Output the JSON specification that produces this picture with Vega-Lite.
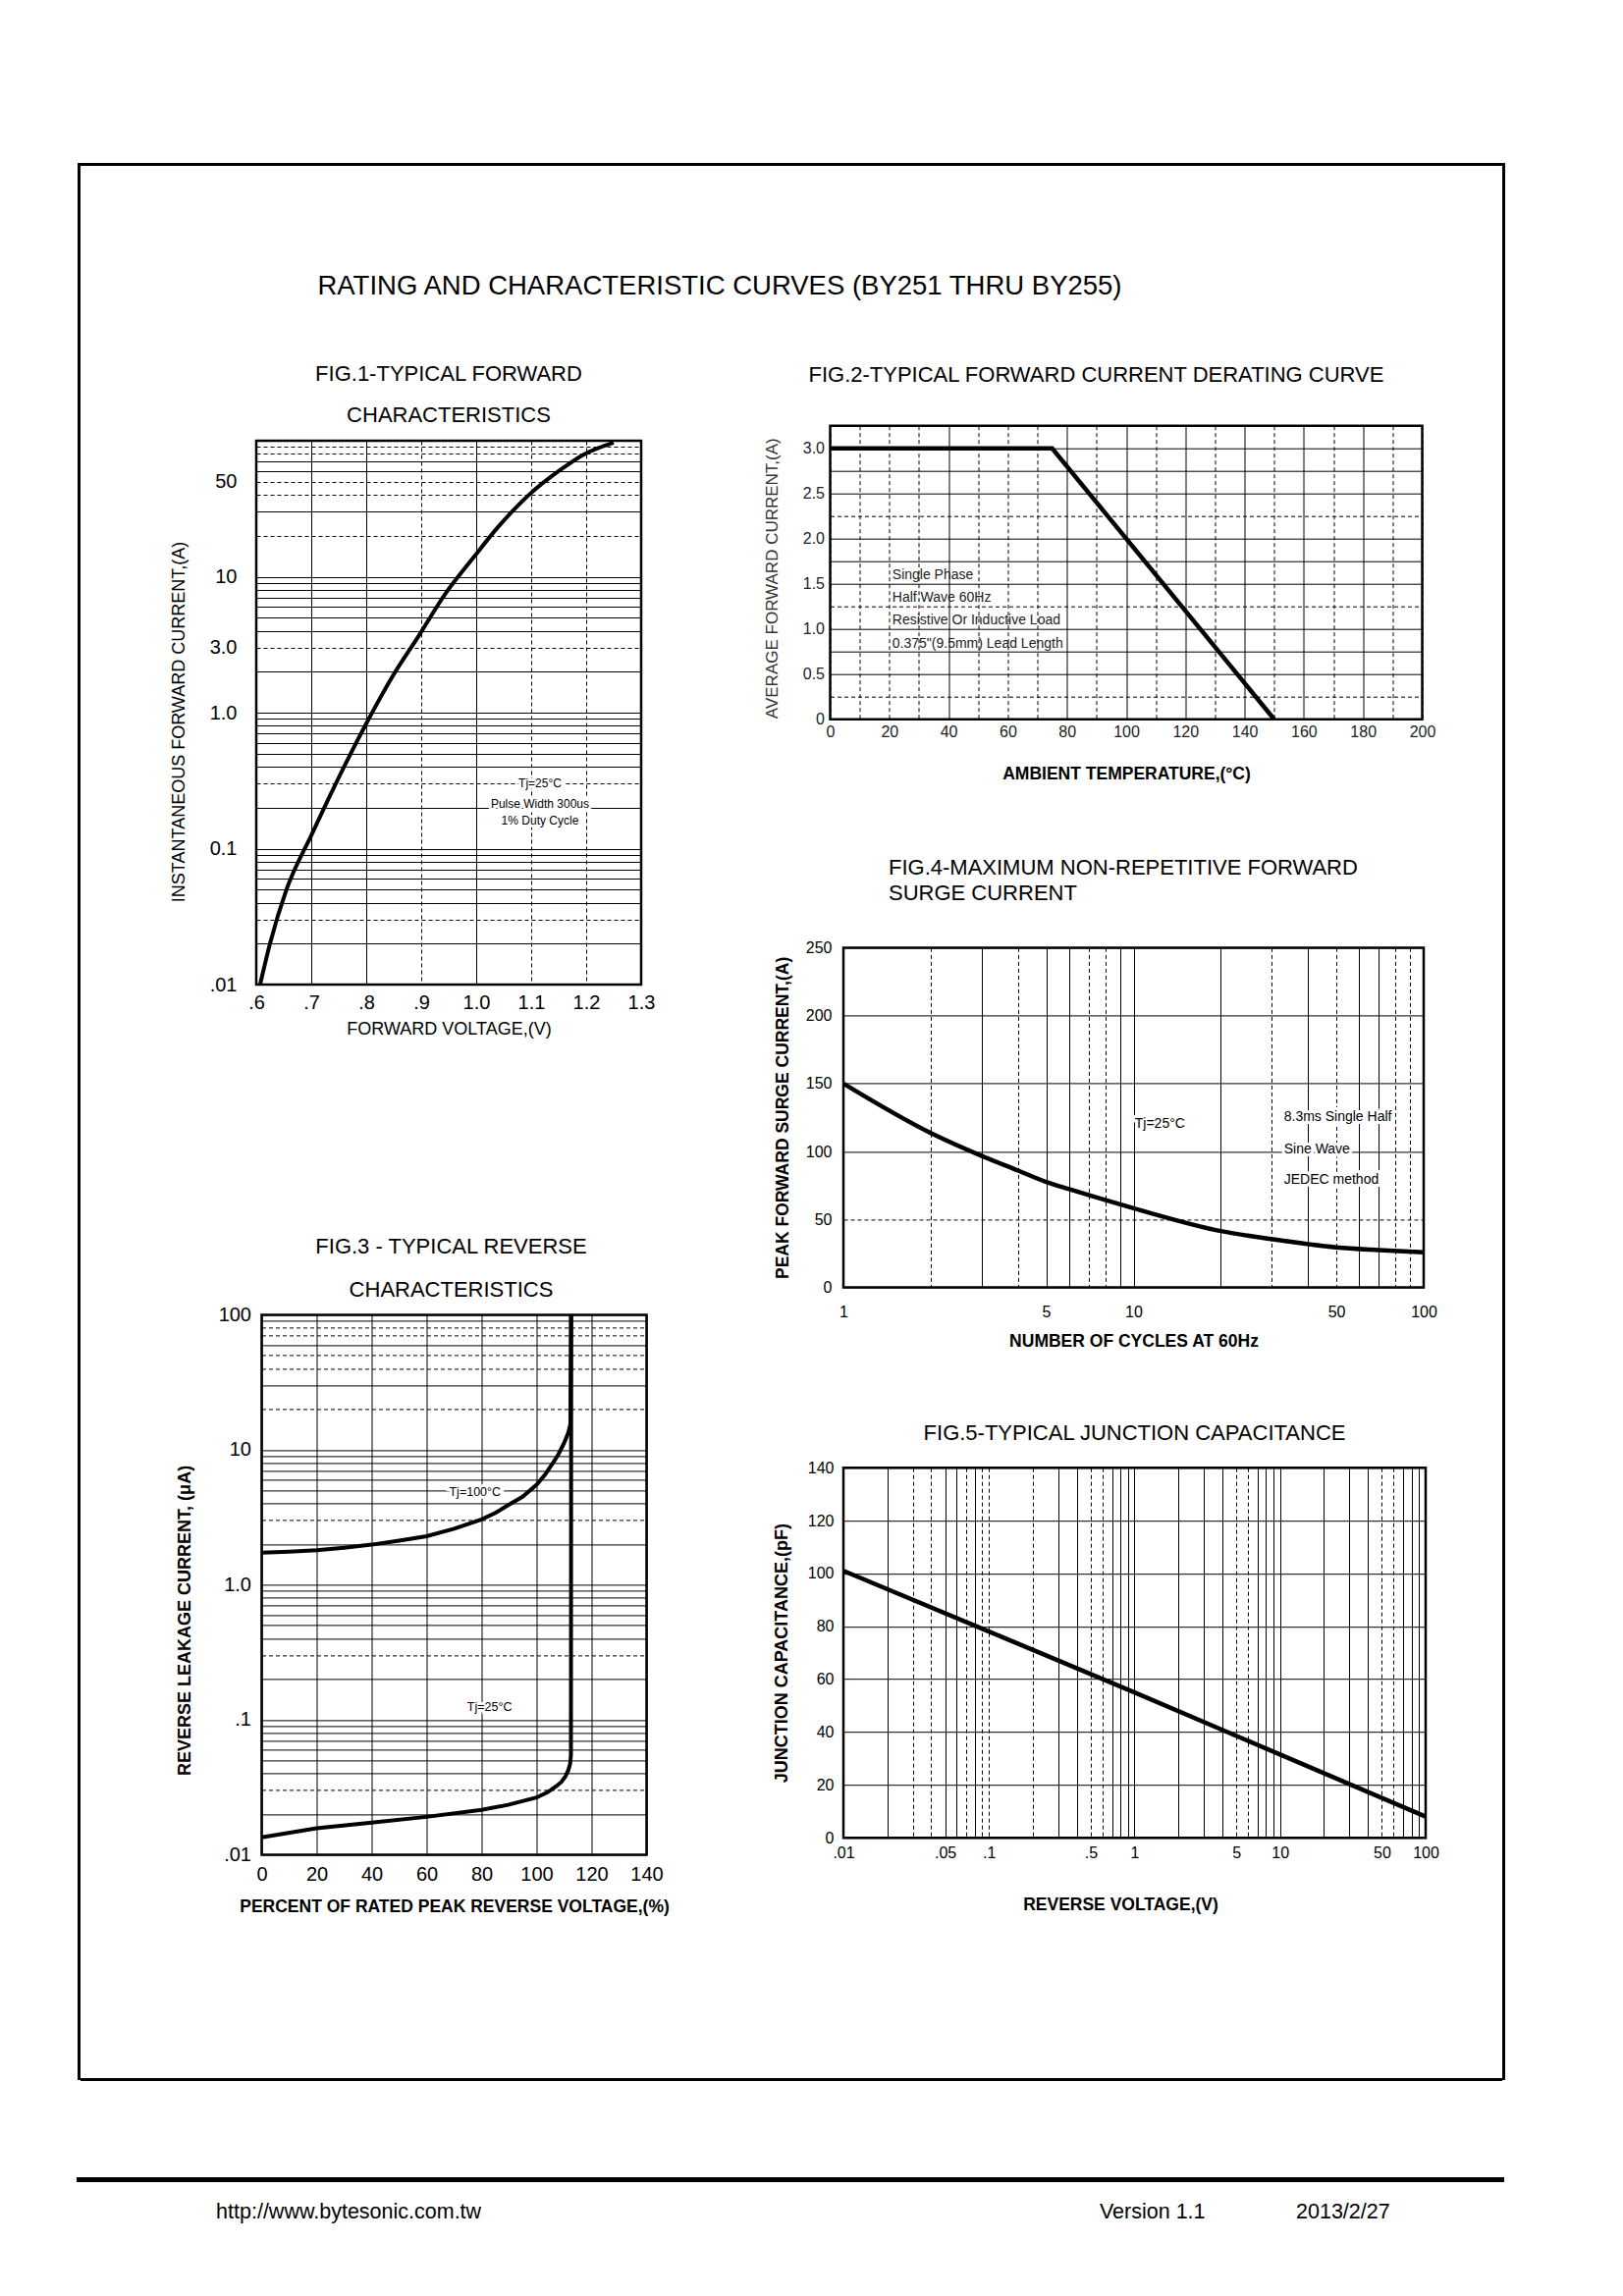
{
  "$schema": "https://vega.github.io/schema/vega-lite/v6.json",
  "padding": {"left": 78, "top": 166, "right": 10, "bottom": 10},
  "background": "white",
  "config": {
    "font": "Liberation Sans",
    "view": {"stroke": "black", "strokeWidth": 2.5},
    "axis": {"grid": true, "gridColor": "black", "gridOpacity": 1, "gridWidth": 1, "ticks": false, "domain": false, "labelColor": "black", "titleColor": "black", "labelFont": "Liberation Sans", "titleFont": "Liberation Sans", "labelOverlap": false, "labelFlush": false, "titleFontWeight": "bold"},
    "title": {"color": "black", "fontWeight": "normal", "font": "Liberation Sans", "frame": "group"}
  },
  "datasets": {
    "fig1": [
      {"voltage": 0.607, "current": 0.01}, {"voltage": 0.625, "current": 0.02}, {"voltage": 0.655, "current": 0.05},
      {"voltage": 0.70, "current": 0.125}, {"voltage": 0.739, "current": 0.27}, {"voltage": 0.80, "current": 0.83},
      {"voltage": 0.853, "current": 2.0}, {"voltage": 0.896, "current": 3.7}, {"voltage": 0.943, "current": 7.4},
      {"voltage": 0.996, "current": 14}, {"voltage": 1.039, "current": 23}, {"voltage": 1.096, "current": 40},
      {"voltage": 1.153, "current": 61}, {"voltage": 1.195, "current": 79}, {"voltage": 1.25, "current": 97}
    ],
    "fig1note": [
      {"voltage": 1.116, "current": 0.302, "note": "Tj=25°C"},
      {"voltage": 1.116, "current": 0.213, "note": "Pulse Width 300us"},
      {"voltage": 1.116, "current": 0.161, "note": "1% Duty Cycle"}
    ],
    "fig2": [{"temp": 0, "current": 3}, {"temp": 75, "current": 3}, {"temp": 150, "current": 0}],
    "fig2note": [
      {"temp": 21, "current": 1.59, "note": "Single Phase"},
      {"temp": 21, "current": 1.34, "note": "Half Wave 60Hz"},
      {"temp": 21, "current": 1.09, "note": "Resistive Or Inductive Load"},
      {"temp": 21, "current": 0.83, "note": "0.375\"(9.5mm) Lead Length"}
    ],
    "fig3": [
      {"series": "100", "percent": 0, "leakage": 1.73}, {"series": "100", "percent": 10, "leakage": 1.76},
      {"series": "100", "percent": 20, "leakage": 1.80}, {"series": "100", "percent": 30, "leakage": 1.88},
      {"series": "100", "percent": 40, "leakage": 1.98}, {"series": "100", "percent": 50, "leakage": 2.12},
      {"series": "100", "percent": 60, "leakage": 2.29}, {"series": "100", "percent": 70, "leakage": 2.6},
      {"series": "100", "percent": 80, "leakage": 3.05}, {"series": "100", "percent": 85, "leakage": 3.4},
      {"series": "100", "percent": 90, "leakage": 3.92}, {"series": "100", "percent": 95, "leakage": 4.5},
      {"series": "100", "percent": 100, "leakage": 5.5}, {"series": "100", "percent": 103, "leakage": 6.5},
      {"series": "100", "percent": 106, "leakage": 8.0}, {"series": "100", "percent": 108, "leakage": 9.3},
      {"series": "100", "percent": 110, "leakage": 11.2}, {"series": "100", "percent": 111.5, "leakage": 13.3},
      {"series": "100", "percent": 112.3, "leakage": 15.5}, {"series": "100", "percent": 112.5, "leakage": 100},
      {"series": "25", "percent": 0, "leakage": 0.01345}, {"series": "25", "percent": 20, "leakage": 0.0157},
      {"series": "25", "percent": 40, "leakage": 0.01725}, {"series": "25", "percent": 60, "leakage": 0.01906},
      {"series": "25", "percent": 80, "leakage": 0.02145}, {"series": "25", "percent": 90, "leakage": 0.0235},
      {"series": "25", "percent": 100, "leakage": 0.0265}, {"series": "25", "percent": 104, "leakage": 0.029},
      {"series": "25", "percent": 107, "leakage": 0.032}, {"series": "25", "percent": 109, "leakage": 0.0345},
      {"series": "25", "percent": 110.5, "leakage": 0.038}, {"series": "25", "percent": 111.5, "leakage": 0.042},
      {"series": "25", "percent": 112.2, "leakage": 0.047}, {"series": "25", "percent": 112.5, "leakage": 0.055},
      {"series": "25", "percent": 112.6, "leakage": 100}
    ],
    "fig3note": [
      {"percent": 77.6, "leakage": 4.88, "note": "Tj=100°C"},
      {"percent": 82.9, "leakage": 0.1236, "note": "Tj=25°C"}
    ],
    "fig4": [
      {"cycles": 1, "surge": 150}, {"cycles": 2, "surge": 113.6}, {"cycles": 3, "surge": 96.7},
      {"cycles": 4, "surge": 85.9}, {"cycles": 5, "surge": 77.5}, {"cycles": 6, "surge": 72.2},
      {"cycles": 10, "surge": 58.2}, {"cycles": 20, "surge": 41.4}, {"cycles": 30, "surge": 35.4},
      {"cycles": 50, "surge": 29.4}, {"cycles": 70, "surge": 27.4}, {"cycles": 100, "surge": 25.7}
    ],
    "fig4note": [
      {"cycles": 10.1, "surge": 120, "note": "Tj=25°C"},
      {"cycles": 33, "surge": 125, "note": "8.3ms Single Half"},
      {"cycles": 33, "surge": 101.5, "note": "Sine Wave"},
      {"cycles": 33, "surge": 78.7, "note": "JEDEC method"}
    ],
    "fig5": [
      {"voltage": 0.01, "capacitance": 101}, {"voltage": 0.1, "capacitance": 78},
      {"voltage": 1, "capacitance": 55}, {"voltage": 10, "capacitance": 31.5},
      {"voltage": 100, "capacitance": 8}
    ],
    "footerText": [
      {"label": "http://www.bytesonic.com.tw", "across": 9.66},
      {"label": "Version 1.1", "across": 71.72},
      {"label": "2013/2/27", "across": 85.52}
    ]
  },
  "spacing": 98,
  "vconcat": [
    {
      "spacing": 0,
      "hconcat": [
        {"width": 1, "height": 1951, "view": {"stroke": "black", "strokeWidth": 2}, "data": {"values": []}, "mark": "point", "encoding": {}},
        {
          "spacing": 8,
          "vconcat": [
            {"width": 1446, "height": 1, "view": {"stroke": "black", "strokeWidth": 2}, "data": {"values": []}, "mark": "point", "encoding": {},
              "title": {"text": "RATING AND CHARACTERISTIC CURVES (BY251 THRU BY255)", "orient": "bottom", "fontSize": 27.5, "anchor": "middle", "dx": -73, "offset": 110}},
            {
              "spacing": 164,
              "vconcat": [
                {
                  "spacing": 51,
                  "hconcat": [
                    {
                      "spacing": 52,
                      "vconcat": [
                        {"width": 1, "height": 1, "view": {"stroke": null}, "data": {"values": []}, "mark": "point", "encoding": {}},
                        {
                          "spacing": 198.4,
                          "vconcat": [
                            {
                              "spacing": 88,
                              "hconcat": [
                                {"width": 1, "height": 1, "view": {"stroke": null}, "data": {"values": []}, "mark": "point", "encoding": {}},
                                {
                                  "width": 392, "height": 554,
                                  "title": {"text": ["FIG.1-TYPICAL FORWARD", "CHARACTERISTICS"], "fontSize": 22, "lineHeight": 42, "offset": 4.5, "anchor": "middle"},
                                  "encoding": {
                                    "x": {"field": "voltage", "type": "quantitative", "scale": {"domain": [0.6, 1.3], "nice": false, "zero": false},
                                      "axis": {"values": [0.6, 0.7, 0.8, 0.9, 1.0, 1.1, 1.2, 1.3],
                                        "labelExpr": "datum.value < 1 ? replace(format(datum.value, '.1f'), '0.', '.') : format(datum.value, '.1f')",
                                        "labelFontSize": 20, "labelPadding": 8, "title": "FORWARD VOLTAGE,(V)", "titleFontSize": 18, "titleFontWeight": "normal", "titlePadding": 8.5,
                                        "gridDash": {"condition": {"test": "indexof([0.9, 1.1, 1.2], datum.value) >= 0", "value": [4, 3]}, "value": []}}},
                                    "y": {"field": "current", "type": "quantitative", "scale": {"type": "log", "domain": [0.01, 100], "nice": false},
                                      "axis": {"values": [0.01, 0.02, 0.03, 0.04, 0.05, 0.06, 0.07, 0.08, 0.09, 0.1, 0.2, 0.3, 0.4, 0.5, 0.6, 0.7, 0.8, 0.9, 1, 2, 3, 4, 5, 6, 7, 8, 9, 10, 20, 30, 40, 50, 60, 70, 80, 90, 100],
                                        "labelExpr": "datum.value == 0.01 ? '.01' : datum.value == 0.1 ? '0.1' : datum.value == 1 ? '1.0' : datum.value == 3 ? '3.0' : datum.value == 10 ? '10' : datum.value == 50 ? '50' : ''",
                                        "labelFontSize": 20, "labelPadding": 20, "title": "INSTANTANEOUS FORWARD CURRENT,(A)", "titleFontSize": 18, "titleFontWeight": "normal", "titlePadding": 21.5, "titleY": 286,
                                        "gridDash": {"condition": {"test": "indexof([0.03, 0.3, 3, 20, 40, 50, 80, 90], datum.value) >= 0", "value": [4, 3]}, "value": []}}}
                                  },
                                  "layer": [
                                    {"data": {"name": "fig1"}, "mark": {"type": "line", "interpolate": "monotone", "strokeWidth": 4, "color": "black"}},
                                    {"data": {"name": "fig1note"}, "mark": {"type": "text", "fontSize": 12, "stroke": "white", "strokeWidth": 6, "color": "white"}, "encoding": {"text": {"field": "note"}}},
                                    {"data": {"name": "fig1note"}, "mark": {"type": "text", "fontSize": 12, "color": "black"}, "encoding": {"text": {"field": "note"}}}
                                  ]
                                }
                              ]
                            },
                            {
                              "spacing": 93.5,
                              "hconcat": [
                                {"width": 1, "height": 1, "view": {"stroke": null}, "data": {"values": []}, "mark": "point", "encoding": {}},
                                {
                                  "width": 392, "height": 550,
                                  "title": {"text": ["FIG.3 - TYPICAL REVERSE", "CHARACTERISTICS"], "fontSize": 22, "lineHeight": 44, "offset": 3.5, "anchor": "middle", "dx": -3},
                                  "encoding": {
                                    "x": {"field": "percent", "type": "quantitative", "scale": {"domain": [0, 140], "nice": false},
                                      "axis": {"values": [0, 20, 40, 60, 80, 100, 120, 140], "labelFontSize": 20, "labelPadding": 10,
                                        "title": "PERCENT OF RATED PEAK REVERSE VOLTAGE,(%)", "titleFontSize": 17.5, "titlePadding": 14.5}},
                                    "y": {"field": "leakage", "type": "quantitative", "scale": {"type": "log", "domain": [0.01, 100], "nice": false},
                                      "axis": {"values": [0.01, 0.02, 0.03, 0.04, 0.05, 0.06, 0.07, 0.08, 0.09, 0.1, 0.2, 0.3, 0.4, 0.5, 0.6, 0.7, 0.8, 0.9, 1, 2, 3, 4, 5, 6, 7, 8, 9, 10, 20, 30, 40, 50, 60, 70, 80, 90, 100],
                                        "labelExpr": "datum.value == 0.01 ? '.01' : datum.value == 0.1 ? '.1' : datum.value == 1 ? '1.0' : datum.value == 10 ? '10' : datum.value == 100 ? '100' : ''",
                                        "labelFontSize": 20, "labelPadding": 11, "title": "REVERSE LEAKAGE CURRENT, (μA)", "titleFontSize": 18, "titlePadding": 24.5, "titleY": 311,
                                        "gridDash": {"condition": {"test": "indexof([0.03, 0.3, 3, 20, 40, 50, 70, 80], datum.value) >= 0", "value": [4, 3]}, "value": []}}}
                                  },
                                  "layer": [
                                    {"data": {"name": "fig3"}, "mark": {"type": "line", "strokeWidth": 4, "color": "black"}, "encoding": {"detail": {"field": "series", "type": "nominal"}}},
                                    {"data": {"name": "fig3note"}, "mark": {"type": "text", "fontSize": 12.5, "stroke": "white", "strokeWidth": 6, "color": "white"}, "encoding": {"text": {"field": "note"}}},
                                    {"data": {"name": "fig3note"}, "mark": {"type": "text", "fontSize": 12.5, "color": "black"}, "encoding": {"text": {"field": "note"}}}
                                  ]
                                }
                              ]
                            }
                          ]
                        }
                      ]
                    },
                    {
                      "spacing": 52.7,
                      "vconcat": [
                        {"width": 1, "height": 1, "view": {"stroke": null}, "data": {"values": []}, "mark": "point", "encoding": {}},
                        {
                          "spacing": 72.7,
                          "vconcat": [
                            {
                              "spacing": 40.5,
                              "hconcat": [
                                {"width": 1, "height": 1, "view": {"stroke": null}, "data": {"values": []}, "mark": "point", "encoding": {}},
                                {
                                  "width": 603, "height": 299,
                                  "title": {"text": "FIG.2-TYPICAL FORWARD CURRENT DERATING CURVE", "fontSize": 22, "offset": 32, "anchor": "start", "dx": -22},
                                  "encoding": {
                                    "x": {"field": "temp", "type": "quantitative", "scale": {"domain": [0, 200], "nice": false},
                                      "axis": {"values": [0, 10, 20, 30, 40, 50, 60, 70, 80, 90, 100, 110, 120, 130, 140, 150, 160, 170, 180, 190, 200],
                                        "labelExpr": "datum.value % 20 == 0 ? format(datum.value, 'd') : ''",
                                        "labelFontSize": 16, "labelPadding": 5, "labelColor": "#222", "title": "AMBIENT TEMPERATURE,(°C)", "titleFontSize": 17.5, "titlePadding": 26,
                                        "gridDash": {"condition": {"test": "indexof([40, 80, 100, 120, 140, 160, 180], datum.value) < 0", "value": [4, 3]}, "value": []}}},
                                    "y": {"field": "current", "type": "quantitative", "scale": {"domain": [0, 3.25], "nice": false},
                                      "axis": {"values": [0, 0.25, 0.5, 0.75, 1, 1.25, 1.5, 1.75, 2, 2.25, 2.5, 2.75, 3, 3.25],
                                        "labelExpr": "datum.value == 0 ? '0' : (datum.value % 0.5 == 0 && datum.value <= 3) ? format(datum.value, '.1f') : ''",
                                        "labelFontSize": 16, "labelPadding": 6, "labelColor": "#222", "title": "AVERAGE FORWARD CURRENT,(A)", "titleFontSize": 17, "titleFontWeight": "normal", "titleColor": "#333", "titlePadding": 22, "titleY": 155,
                                        "gridDash": {"condition": {"test": "indexof([0.25, 1.25, 2.25], datum.value) >= 0", "value": [4, 3]}, "value": []}}}
                                  },
                                  "layer": [
                                    {"data": {"name": "fig2"}, "mark": {"type": "line", "strokeWidth": 4.5, "color": "black"}},
                                    {"data": {"name": "fig2note"}, "mark": {"type": "text", "fontSize": 14, "align": "left", "color": "#222"}, "encoding": {"text": {"field": "note"}}}
                                  ]
                                }
                              ]
                            },
                            {
                              "spacing": 51,
                              "hconcat": [
                                {"width": 1, "height": 1, "view": {"stroke": null}, "data": {"values": []}, "mark": "point", "encoding": {}},
                                {
                                  "spacing": 69.8,
                                  "vconcat": [
                                    {
                                      "width": 591, "height": 346,
                                      "title": {"text": ["FIG.4-MAXIMUM NON-REPETITIVE FORWARD", "SURGE CURRENT"], "fontSize": 22, "lineHeight": 26, "offset": 35.5, "anchor": "start", "dx": 46},
                                      "encoding": {
                                        "x": {"field": "cycles", "type": "quantitative", "scale": {"type": "log", "domain": [1, 100], "nice": false},
                                          "axis": {"values": [1, 2, 3, 4, 5, 6, 7, 8, 9, 10, 20, 30, 40, 50, 60, 70, 80, 90, 100],
                                            "labelExpr": "indexof([1, 5, 10, 50, 100], datum.value) >= 0 ? format(datum.value, 'd') : ''",
                                            "labelFontSize": 16, "labelPadding": 17, "title": "NUMBER OF CYCLES AT 60Hz", "titleFontSize": 17.5, "titlePadding": 13.5,
                                            "gridDash": {"condition": {"test": "indexof([2, 4, 7, 8, 30, 50, 80, 90], datum.value) >= 0", "value": [4, 3]}, "value": []}}},
                                        "y": {"field": "surge", "type": "quantitative", "scale": {"domain": [0, 250], "nice": false},
                                          "axis": {"values": [0, 50, 100, 150, 200, 250], "labelFontSize": 16, "labelPadding": 12,
                                            "title": "PEAK FORWARD SURGE CURRENT,(A)", "titleFontSize": 17.5, "titlePadding": 14.25,
                                            "gridDash": {"condition": {"test": "datum.value == 50", "value": [4, 3]}, "value": []}}}
                                      },
                                      "layer": [
                                        {"data": {"name": "fig4"}, "mark": {"type": "line", "interpolate": "monotone", "strokeWidth": 4.5, "color": "black"}},
                                        {"data": {"name": "fig4note"}, "mark": {"type": "text", "fontSize": 14, "align": "left", "stroke": "white", "strokeWidth": 6, "color": "white"}, "encoding": {"text": {"field": "note"}}},
                                        {"data": {"name": "fig4note"}, "mark": {"type": "text", "fontSize": 14, "align": "left", "color": "black"}, "encoding": {"text": {"field": "note"}}}
                                      ]
                                    },
                                    {
                                      "width": 593, "height": 377,
                                      "title": {"text": "FIG.5-TYPICAL JUNCTION CAPACITANCE", "fontSize": 22, "offset": 15.5, "anchor": "middle"},
                                      "encoding": {
                                        "x": {"field": "voltage", "type": "quantitative", "scale": {"type": "log", "domain": [0.01, 100], "nice": false},
                                          "axis": {"values": [0.01, 0.02, 0.03, 0.04, 0.05, 0.06, 0.07, 0.08, 0.09, 0.1, 0.2, 0.3, 0.4, 0.5, 0.6, 0.7, 0.8, 0.9, 1, 2, 3, 4, 5, 6, 7, 8, 9, 10, 20, 30, 40, 50, 60, 70, 80, 90, 100],
                                            "labelExpr": "datum.value == 0.01 ? '.01' : datum.value == 0.05 ? '.05' : datum.value == 0.1 ? '.1' : datum.value == 0.5 ? '.5' : indexof([1, 5, 10, 50, 100], datum.value) >= 0 ? format(datum.value, 'd') : ''",
                                            "labelFontSize": 16, "labelPadding": 7, "title": "REVERSE VOLTAGE,(V)", "titleFontSize": 17.5, "titlePadding": 36.5, "titleX": 282,
                                            "gridDash": {"condition": {"test": "indexof([0.03, 0.04, 0.07, 0.09, 0.1, 0.2, 0.5, 0.6, 5, 6, 50, 60], datum.value) >= 0", "value": [4, 3]}, "value": []}}},
                                        "y": {"field": "capacitance", "type": "quantitative", "scale": {"domain": [0, 140], "nice": false},
                                          "axis": {"values": [0, 20, 40, 60, 80, 100, 120, 140], "labelFontSize": 16, "labelPadding": 10,
                                            "title": "JUNCTION CAPACITANCE,(pF)", "titleFontSize": 18, "titlePadding": 17}}
                                      },
                                      "layer": [
                                        {"data": {"name": "fig5"}, "mark": {"type": "line", "strokeWidth": 4.5, "color": "black"}}
                                      ]
                                    }
                                  ]
                                }
                              ]
                            }
                          ]
                        }
                      ]
                    }
                  ]
                },
                {"width": 1446, "height": 1, "view": {"stroke": "black", "strokeWidth": 2}, "data": {"values": []}, "mark": "point", "encoding": {}}
              ]
            }
          ]
        },
        {"width": 1, "height": 1951, "view": {"stroke": "black", "strokeWidth": 2}, "data": {"values": []}, "mark": "point", "encoding": {}}
      ]
    },
    {
      "width": 1450, "height": 1,
      "view": {"stroke": "black", "strokeWidth": 4},
      "data": {"name": "footerText"},
      "mark": {"type": "text", "align": "left", "baseline": "middle", "fontSize": 21.5, "dy": 33, "color": "black"},
      "encoding": {
        "x": {"field": "across", "type": "quantitative", "scale": {"domain": [0, 100], "nice": false, "zero": false}, "axis": null},
        "text": {"field": "label"}
      }
    }
  ]
}
